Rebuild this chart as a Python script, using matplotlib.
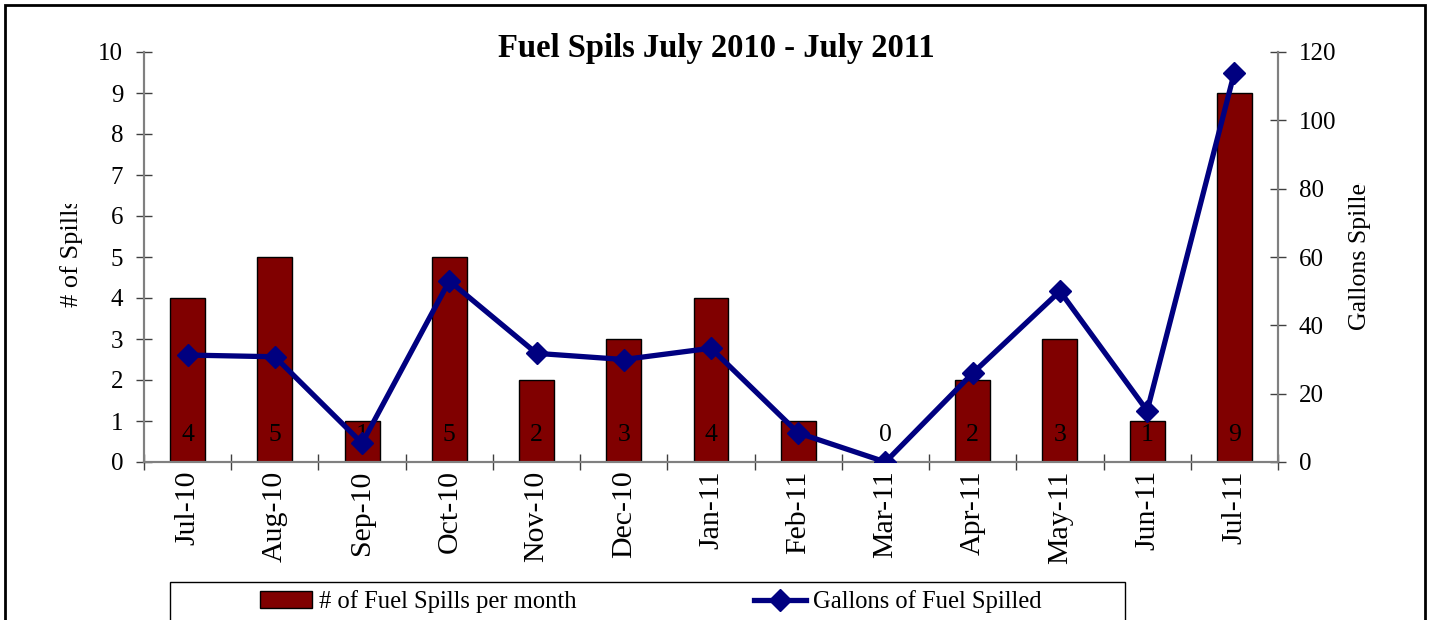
import numpy as np
import matplotlib.pyplot as plt
from matplotlib.patches import Rectangle
from matplotlib.transforms import Bbox

plt.rcParams['font.family'] = ['Liberation Serif', 'DejaVu Serif']

months = ['Jul-10', 'Aug-10', 'Sep-10', 'Oct-10', 'Nov-10', 'Dec-10', 'Jan-11',
          'Feb-11', 'Mar-11', 'Apr-11', 'May-11', 'Jun-11', 'Jul-11']
spills = [4, 5, 1, 5, 2, 3, 4, 1, 0, 2, 3, 1, 9]
gallons = [31.3, 30.8, 5.5, 53, 31.8, 30, 33.3, 8.5, 0, 26, 50, 15, 114]

W, H = 1430, 620
fig = plt.figure(figsize=(W/100, H/100), dpi=100)
ax = fig.add_axes([144/W, 1-462/H, (1278-144)/W, (462-52)/H])
ax2 = ax.twinx()

x = np.arange(len(months))
bars = ax.bar(x, spills, width=0.4, color='#800000', edgecolor='black', linewidth=1, zorder=2,
              label='# of Fuel Spills per month')
for i, v in enumerate(spills):
  ax.text(x[i], 0.66, str(v), ha='center', va='center', fontsize=18.5, color='black', zorder=3)

ln, = ax2.plot(x, gallons, color='#000080', linewidth=3.8, marker='D', markersize=11.5,
               markeredgecolor='#000080', label='Gallons of Fuel Spilled', zorder=4)

gray = '#808080'
tickc = '#404040'
ax.set_xlim(-0.5, len(months)-0.5)
ax.set_ylim(0, 10)
ax2.set_ylim(0, 120)
ax.set_yticks(range(0, 11))
ax2.set_yticks(range(0, 121, 20))
ax.set_xticks(x)
ax.set_xticklabels(months, rotation=90, fontsize=21.5)
ax.set_xticks(np.arange(-0.5, len(months)), minor=True)
ax.tick_params(axis='x', which='major', length=0, pad=6)
ax.tick_params(axis='x', which='minor', direction='inout', length=12, color=tickc, width=1)
ax.tick_params(axis='y', direction='inout', length=12, color=tickc, width=1, labelsize=18, pad=9)
ax2.tick_params(axis='y', direction='inout', length=12, color=tickc, width=1, labelsize=18, pad=9)

for a in (ax, ax2):
  a.spines['top'].set_visible(False)
  for s in ('left', 'right', 'bottom'):
    a.spines[s].set_color(gray)
    a.spines[s].set_linewidth(1.5)
  a.patch.set_visible(False)
ax2.set_zorder(ax.get_zorder()+1)

fig.text(716/W, 1-48/H, 'Fuel Spils July 2010 - July 2011', ha='center', va='center',
         fontsize=23.5, fontweight='bold')

# osove popisy su v originali orezane zhora
t1 = fig.text(72/W, 1-307/H, '# of Spills', rotation=90, ha='center', va='bottom', fontsize=19)
t1.set_clip_box(Bbox.from_extents(0, 0, W, H-204))
t2 = fig.text(1360/W, 1-330/H, 'Gallons Spilled', rotation=90, ha='center', va='bottom', fontsize=18.6)
t2.set_clip_box(Bbox.from_extents(0, 0, W, H-183))

# ramik okolo celeho obrazku a okolo legendy
fig.patches.append(Rectangle((5/W, -0.1), 1420/W, 1.1-5/H, transform=fig.transFigure,
                             fill=False, edgecolor='black', linewidth=2))
fig.patches.append(Rectangle((170/W, -0.1), (1125-170)/W, 0.1+1-582/H, transform=fig.transFigure,
                             fill=False, edgecolor='black', linewidth=1))

fig.legend([bars, ln], ['# of Fuel Spills per month', 'Gallons of Fuel Spilled'],
           loc='center', bbox_to_anchor=(651/W, 1-602/H), ncol=2, frameon=False,
           fontsize=17.7, handlelength=2.1, handletextpad=0.3, columnspacing=7.2)

fig.savefig('out.png', dpi=100)
